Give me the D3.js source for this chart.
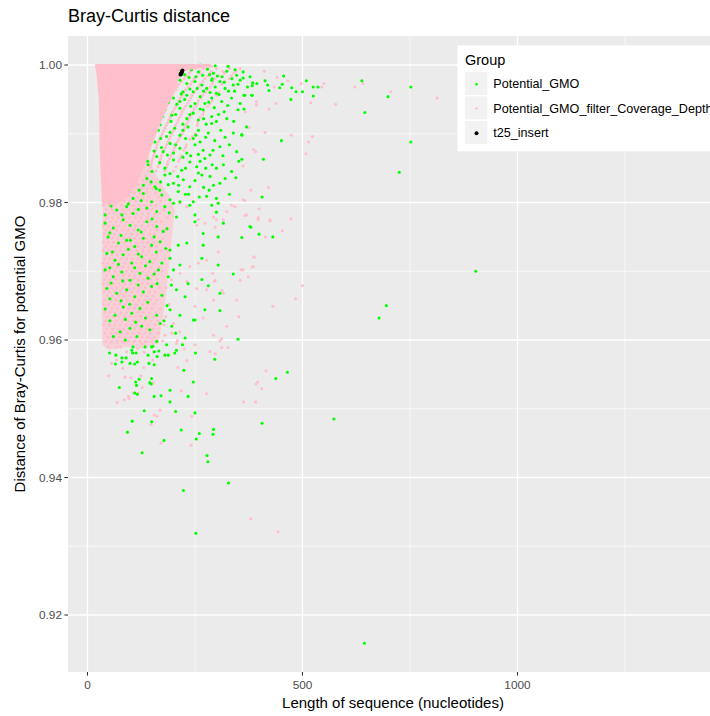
<!DOCTYPE html>
<html>
<head>
<meta charset="utf-8">
<script src="https://cdn.jsdelivr.net/npm/d3@7"></script>
<style>
  body { margin: 0; background: #ffffff; }
  svg { display: block; }
  text { font-family: "Liberation Sans", Arial, Helvetica, sans-serif; }
</style>
</head>
<body>
<svg id="chart" width="710" height="716"></svg>
<script>
// ---- axis ticks ----
const xMajorTicks = [0, 500, 1000];
const xMinorTicks = [250, 750, 1250];
const yMajorTicks = [0.92, 0.94, 0.96, 0.98, 1.00];
const yMinorTicks = [0.93, 0.95, 0.97, 0.99];

// ---- groups ----
const groupNames = ["Potential_GMO", "Potential_GMO_filter_Coverage_Depth", "t25_insert"];
const groupColours = ["#00FF00", "#FFC0CB", "#000000"];

// ---- Potential_GMO: [length, distance] ----
const gmoPoints = [
  [262,1.0],[297,.9999],[327,.9998],[240,.9997],
  [242,.9993],[258,.9990],[279,.9994],[293,.9988],[302,.9984],[324,.9991],[343,.9993],[347,.9985],[362,.9990],[378,.9983],
  [215,.9978],[231,.9973],[250,.9976],[266,.9971],[277,.9966],[289,.9978],[297,.9968],[308,.9976],[320,.9966],[339,.9971],[355,.9978],[366,.9956],[382,.9956],
  [200,.9952],[215,.9947],[231,.9956],[246,.9961],[262,.9954],[273,.9944],[289,.9952],[300,.9959],[312,.9947],[335,.9952],[355,.9944],
  [180,.9935],[196,.9927],[215,.9937],[231,.9922],[246,.9930],[258,.9920],[269,.9935],[289,.9925],[300,.9918],[324,.9922],[370,.9910],
  [149,.9901],[169,.9913],[184,.9896],[203,.9908],[215,.9898],[234,.9910],[246,.9893],[258,.9905],[281,.9901],[289,.9915],[339,.9901],[359,.9898],
  [134,.9881],[157,.9888],[176,.9874],[192,.9886],[215,.9879],[231,.9872],[250,.9884],[269,.9876],[285,.9869],[308,.9881],[347,.9874],
  [118,.9862],[141,.9855],[161,.9867],[180,.9850],[200,.9862],[219,.9847],[238,.9859],[254,.9852],[273,.9864],[300,.9850],[316,.9855],[335,.9845],
  [37,.9842],[68,.9830],[91,.9838],[110,.9825],[138,.9835],[157,.9823],[180,.9840],[200,.9828],[223,.9833],[238,.9823],[266,.9840],[293,.9825],[320,.9835],
  [45,.9811],[56,.9801],[76,.9809],[106,.9806],[130,.9813],[149,.9801],[173,.9811],[192,.9804],[211,.9816],[246,.9801],[277,.9809],
  [226,.9986],[252,.9983],[284,.9986],[313,.9983],[336,.9980],[270,.9962],[238,.9965],[306,.9957],[328,.9962],[222,.9961],
  [208,.9943],[240,.9940],[262,.9936],[295,.9938],[318,.9932],[194,.9918],[222,.9914],[276,.9914],[310,.9905],[228,.9893],
  [262,.9888],[296,.9890],[170,.9893],[205,.9884],[240,.9868],[262,.9860],[290,.9855],[186,.9869],[150,.9845],[170,.9830],
  [210,.9838],[250,.9832],[283,.9818],[120,.9818],[160,.9820],[228,.9812],[260,.9808],[300,.9806],[95,.9798],[125,.9803],
  [300,.9786],[330,.9812],[345,.9836],[352,.9860],[330,.9884],[275,.9850],
  [205,.9978],[236,.9982],[268,.9985],[290,.9980],[318,.9975],[350,.9972],[372,.9968],
  [195,.9962],[218,.9958],[255,.9966],[285,.9960],[342,.9962],
  [188,.9945],[226,.9950],[250,.9944],[282,.9946],[326,.9941],[350,.9935],
  [175,.9925],[205,.9928],[238,.9928],[270,.9922],[305,.9928],[340,.9918],
  [165,.9905],[192,.9902],[222,.9905],[252,.9898],[275,.9895],[320,.9895],
  [155,.9875],[172,.9880],[200,.9872],[222,.9866],[258,.9870],[292,.9876],[315,.9868],
  [140,.9860],[168,.9858],[192,.9842],[228,.9850],[258,.9843],[285,.9838],[308,.9828],
  [130,.9825],[148,.9830],[168,.9818],[188,.9826],[212,.9825],[235,.9812],[270,.9822],
  [41,.9782],[68,.9789],[91,.9794],[106,.9784],[138,.9792],[161,.9787],[180,.9794],[200,.9799],[215,.9801],[238,.9796],[250,.9782],[289,.9796],[304,.9799],
  [41,.9770],[60,.9763],[83,.9775],[99,.9767],[118,.9760],[138,.9772],[161,.9765],[176,.9758],[207,.9779],[250,.9772],[269,.9755],[316,.9770],[378,.9765],
  [48,.9750],[72,.9741],[91,.9745],[110,.9736],[130,.9748],[149,.9738],[169,.9743],[192,.9731],[211,.9738],[231,.9741],[269,.9738],[304,.9750],[359,.9749],
  [45,.9726],[64,.9716],[83,.9724],[103,.9712],[126,.9721],[145,.9714],[173,.9712],[192,.9719],[215,.9709],[266,.9719],[304,.9709],
  [41,.9702],[60,.9692],[80,.9699],[99,.9687],[122,.9697],[141,.9690],[165,.9702],[188,.9692],[234,.9682],[266,.9688],[339,.9696],
  [45,.9675],[68,.9668],[91,.9673],[110,.9663],[130,.9670],[149,.9678],[173,.9665],[207,.9673],[227,.9663],[281,.9679],[308,.9668],
  [41,.9645],[64,.9636],[83,.9648],[103,.9639],[122,.9646],[161,.9636],[192,.9644],[215,.9636],[250,.9629],[273,.9644],[308,.9643],
  [76,.9612],[99,.9617],[126,.9620],[145,.9615],[169,.9624],[196,.9620],[227,.9603],[246,.9629],[161,.9598],[184,.9593],[149,.9590],[350,.9601],[134,.9590],[106,.9590],
  [55,.9795],[80,.9782],[118,.9790],[150,.9776],[190,.9785],
  [52,.9756],[78,.9752],[100,.9745],[125,.9757],[155,.9750],[185,.9762],
  [58,.9728],[95,.9732],[118,.9725],[160,.9728],[182,.9733],
  [52,.9705],[72,.9710],[110,.9705],[135,.9708],[155,.9696],[200,.9702],
  [55,.9683],[82,.9686],[118,.9680],[162,.9682],[195,.9680],
  [52,.9660],[78,.9657],[98,.9652],[140,.9655],[185,.9650],
  [52,.9628],[88,.9630],[112,.9626],[135,.9632],[178,.9628],
  [60,.9605],[88,.9600],[115,.9605],[205,.9610],
  [51,.9581],[66,.9578],[80,.9574],[90,.9574],[103,.9585],[105,.9581],[113,.9581],[141,.9578],[152,.9591],[155,.9583],[162,.9576],[166,.9584],[180,.9578],[188,.9578],[203,.9581],[207,.9585],[221,.9593],[251,.9581],[296,.9572],
  [65,.9565],[80,.9568],[99,.9566],[110,.9565],[116,.9568],[143,.9566],[155,.9564],[224,.9556],[246,.9539],
  [112,.9539],[120,.9543],[145,.9538],[149,.9544],[148,.9536],[114,.9534],[74,.9531],[110,.9523],[116,.9521],[155,.9518],[171,.9519],[192,.9527],[192,.9510],[234,.9518],
  [132,.9497],[205,.9496],[250,.9494],[104,.9482],[149,.9481],[93,.9466],[218,.9469],[260,.9464],[293,.9470],[292,.9463],[253,.9456],[178,.9454],[127,.9436],[278,.9432],[280,.9423],[328,.9392],[223,.9381],[252,.9319],[406,.9479],[438,.9544],[465,.9553],[644,.9159],
  [638,.9977],[752,.9968],[699,.9954],[645,.9931],[752,.9888],[725,.9844],[451,.9890],[409,.9863],[406,.9808],[380,.9764],[399,.9754],[431,.9750],[359,.9863],[359,.9899],[364,.9936],
  [509,.9977],[525,.9955],[536,.9968],[525,.9968],[500,.9961],[485,.9961],[473,.9950],[475,.9967],[456,.9984],[453,.9972],[447,.9967],[422,.9963],[419,.9971],[413,.9977],[394,.9973],
  [383,.9970],[384,.9974],[383,.9956],[364,.9956],[362,.9981],[903,.9700],[695,.9650],[678,.9632],[573,.9485]
];

// ---- Potential_GMO_filter_Coverage_Depth ----
// outline of the saturated region where the points merge into one area
const filteredCoreOutline = [
  [20,1.0],[285,1.0],[290,.9998],[238,.9995],[215,.9990],[205,.9971],[195,.9956],[184,.9942],
  [173,.9923],[161,.9905],[150,.9888],[140,.9869],[126,.9850],[112,.9825],[92,.9808],[62,.9798],
  [36,.9800],[31,.9876],[29,.9949],[24,.9985],[20,.9999]
];
// outline of the dense (partly overlapping) cloud below it
const filteredDenseOutline = [
  [140,.9869],[160,.9840],[190,.9810],[203,.9790],[195,.9740],[185,.9680],[175,.9630],[165,.9595],
  [130,.9588],[90,.9590],[50,.9586],[34,.9593],[33,.9700],[36,.9800]
];
// rows of points along the right edge of the saturated region: [distance, [lengths]]
const filteredFringeRows = [
  [.9995,[250,270,300,330,355]],
  [.9991,[240,262,288,315,345]],
  [.9988,[236,262,285,318,340]],
  [.9984,[230,255,280,305,335]],
  [.9980,[225,248,273,296,330]],
  [.9976,[218,244,268,292,320]],
  [.9972,[212,240,262,290,312]],
  [.9968,[208,234,258,285]],
  [.9964,[205,228,254,280]],
  [.9960,[200,224,248,274,305]],
  [.9956,[196,220,243,268,300]],
  [.9952,[193,216,240,264]],
  [.9948,[190,212,236,258,290]],
  [.9944,[187,208,232,256,285]],
  [.9940,[184,205,228,252,280]],
  [.9936,[181,202,224,248]],
  [.9932,[178,198,220,244,270]],
  [.9928,[175,195,218,242,268]],
  [.9924,[172,192,214,238,262]],
  [.9920,[169,189,211,235]],
  [.9916,[166,186,208,232,256]],
  [.9912,[163,183,205,229,255]],
  [.9908,[160,180,202,226]],
  [.9904,[158,177,199,223]],
  [.9900,[155,174,196,220,250]],
  [.9896,[152,171,193,216,244]],
  [.9892,[150,168,190,212,238]],
  [.9888,[148,165,187,209]],
  [.9884,[146,162,184,206,230]],
  [.9880,[144,160,181,203,228]],
  [.9876,[142,158,178,200,224]],
  [.9872,[140,156,175,197]],
  [.9868,[138,154,172,194,218]],
  [.9864,[136,152,170,191,215]],
  [.9860,[134,150,168,188,212]],
  [.9856,[132,148,166,186]],
  [.9852,[130,146,164,184,206]],
  [.9846,[126,142,160,180,200]]
];
// rows of the dense cloud below the saturated region: [distance, [lengths]]
const filteredDenseRows = [
  [.9838,[40,52,63,78,95,108,121,135]],
  [.9832,[37,47,58,70,84,99,113,128,140]],
  [.9826,[43,55,66,80,92,104,118,132,147]],
  [.9820,[38,50,61,74,88,101,115,126,139,152]],
  [.9814,[45,57,69,83,96,110,123,137,158]],
  [.9808,[39,53,65,77,90,103,117,129,143,165]],
  [.9802,[42,48,60,72,86,98,112,125,138,152,170]],
  [.9796,[37,51,64,79,93,106,120,133,147,159]],
  [.9790,[44,56,68,82,95,109,122,136,150,177]],
  [.9784,[39,50,62,75,88,101,115,128,142,156,168]],
  [.9778,[46,58,71,84,97,111,124,139,153,186]],
  [.9772,[40,53,66,78,92,105,118,131,145,160,172]],
  [.9766,[37,48,60,73,86,99,113,126,141,152]],
  [.9760,[43,55,68,81,94,107,121,134,148,164,181]],
  [.9754,[39,51,63,76,90,103,116,130,144,157]],
  [.9748,[45,58,70,84,97,110,124,138,151,175]],
  [.9742,[38,49,61,74,87,100,114,127,140,155,166]],
  [.9736,[42,55,67,80,93,106,119,133,147,160]],
  [.9730,[37,50,63,76,89,102,115,129,142,170,188]],
  [.9724,[44,57,69,82,96,109,122,136,150,162]],
  [.9718,[40,52,65,78,91,104,117,131,144,157,180]],
  [.9712,[36,47,60,73,86,99,112,125,139,152]],
  [.9706,[43,56,69,82,95,108,121,135,148,166]],
  [.9700,[38,51,64,77,90,103,116,129,143,158,174]],
  [.9694,[45,58,71,84,97,110,123,137,151]],
  [.9688,[40,53,66,79,92,105,118,131,146,162,195]],
  [.9682,[36,48,61,74,87,100,113,127,140,154]],
  [.9676,[43,56,69,82,95,108,122,135,149,168,183]],
  [.9670,[39,51,64,77,90,103,116,130,144,157]],
  [.9664,[46,59,72,85,98,111,124,138,152,176]],
  [.9658,[41,54,67,80,93,106,119,133,146,161]],
  [.9652,[37,49,62,75,88,101,114,128,141,155,190]],
  [.9646,[44,57,70,83,96,109,122,136,150,170]],
  [.9640,[40,52,65,78,91,104,117,131,144,159]],
  [.9634,[47,60,73,86,99,112,125,139,153,182]],
  [.9628,[42,55,68,81,94,107,120,134,148,163]],
  [.9622,[38,50,63,76,89,102,116,129,142,157,178]],
  [.9616,[45,58,71,84,97,110,123,137,152]],
  [.9610,[41,54,67,80,93,106,120,133,147,165,196]],
  [.9604,[48,61,74,87,100,113,127,140,155]],
  [.9598,[43,56,69,82,96,109,122,136,150]]
];
// scattered points: [length, distance]
const filteredPoints = [
  [813,.9952],[705,.9961],[641,.9973],[622,.9968],[577,.9943],[550,.9973],[545,.9968],[519,.9945],[523,.9896],[514,.9888],
  [508,.9871],[474,.9898],[497,.9973],[466,.9977],[438,.9944],[422,.9936],[413,.9902],[411,.9991],[441,.9982],[434,.9968],
  [393,.9947],[393,.9942],[386,.9877],[391,.9874],[362,.9853],[380,.9818],[421,.9822],[366,.9803],[399,.9791],[366,.9781],
  [397,.9778],[425,.9773],[473,.9776],[453,.9759],[414,.9750],[367,.9932],[376,.9909],[500,.9679],
  [48,.9590],[55,.9596],[68,.9590],[77,.9590],[85,.9596],[91,.9583],[116,.9588],[127,.9595],[175,.9599],[209,.9599],
  [225,.9587],[285,.9583],[297,.9580],[312,.9589],[308,.9599],[68,.9571],[56,.9566],[82,.9559],[132,.9582],[152,.9571],
  [131,.9560],[231,.9570],[210,.9560],[49,.9548],[87,.9546],[101,.9545],[124,.9548],[127,.9531],[106,.9523],[95,.9518],
  [86,.9513],[69,.9509],[97,.9515],[118,.9523],[153,.9538],[218,.9526],[277,.9522],[415,.9555],[396,.9539],[392,.9536],
  [405,.9529],[391,.9510],[363,.9510],[169,.9498],[155,.9491],[162,.9489],[148,.9477],[243,.9489],[171,.9450],[241,.9447],
  [380,.9340],[443,.9321],
  [484,.9660],[431,.9649],[388,.9720],[383,.9706],[357,.9702],[355,.9687],[352,.9634],[313,.9672],[291,.9697],[295,.9685],
  [277,.9673],[293,.9607],[312,.9602],[327,.9589],[424,.9775],[316,.9775],[297,.9764],[215,.9799],[231,.9794],[335,.9796],
  [343,.9794],[362,.9804],[293,.9779],[300,.9775],[258,.9775],[254,.9767],[273,.9770],[324,.9787],[370,.9782],[397,.9775],
  [386,.9721],[362,.9702],[374,.9692],[386,.9707],[304,.9728],[277,.9716],[258,.9712],[238,.9707],[215,.9697],[231,.9685],
  [254,.9675],[297,.9687],[293,.9658],[269,.9632],[250,.9649],[316,.9668],[347,.9658],[324,.9620],[200,.9624],[215,.9612],
  [180,.9607],[207,.9595],[250,.9593]
];

// ---- t25_insert ----
const insertPoints = [[216,.9986],[217,.9987],[218,.9988],[219,.9990],[220,.9991],[221,.9992],[218,.9987],[219,.9989]];

// ---------------------------------------------------------------
const svg = d3.select("#chart");
const panel = { left: 68, top: 36, right: 720, bottom: 672 };

const x = d3.scaleLinear().domain([-45.3, 1447.7]).range([panel.left, 710]);
const y = d3.scaleLinear().domain([0.91171, 1.00422]).range([panel.bottom, panel.top]);
const colour = d3.scaleOrdinal().domain(groupNames).range(groupColours);

svg.append("rect").attr("width", 710).attr("height", 716).attr("fill", "#ffffff");

// panel background
svg.append("rect")
  .attr("x", panel.left).attr("y", panel.top)
  .attr("width", panel.right - panel.left).attr("height", panel.bottom - panel.top)
  .attr("fill", "#EBEBEB");

const grid = svg.append("g");
grid.selectAll("line.ymin").data(yMinorTicks).join("line")
  .attr("x1", panel.left).attr("x2", panel.right)
  .attr("y1", d => y(d)).attr("y2", d => y(d))
  .attr("stroke", "#ffffff").attr("stroke-width", 0.6);
grid.selectAll("line.xmin").data(xMinorTicks).join("line")
  .attr("y1", panel.top).attr("y2", panel.bottom)
  .attr("x1", d => x(d)).attr("x2", d => x(d))
  .attr("stroke", "#ffffff").attr("stroke-width", 0.6);
grid.selectAll("line.ymaj").data(yMajorTicks).join("line")
  .attr("x1", panel.left).attr("x2", panel.right)
  .attr("y1", d => y(d)).attr("y2", d => y(d))
  .attr("stroke", "#ffffff").attr("stroke-width", 1.3);
grid.selectAll("line.xmaj").data(xMajorTicks).join("line")
  .attr("y1", panel.top).attr("y2", panel.bottom)
  .attr("x1", d => x(d)).attr("x2", d => x(d))
  .attr("stroke", "#ffffff").attr("stroke-width", 1.3);

// ---- points ----
const R = 1.55;
const pinkRowPoints = rows => rows.flatMap(([dist, lens]) => lens.map(len => [len, dist]));
const filteredAll = pinkRowPoints(filteredDenseRows)
  .concat(pinkRowPoints(filteredFringeRows))
  .concat(filteredPoints);
const outlinePath = d3.line().x(d => x(d[0])).y(d => y(d[1])).curve(d3.curveLinearClosed);

const marks = svg.append("g");

// dense, partly overlapping cloud of the filtered group
marks.append("path")
  .datum(filteredDenseOutline)
  .attr("d", outlinePath)
  .attr("fill", colour(groupNames[1]))
  .attr("fill-opacity", 0.6)
  .attr("stroke", "none");

marks.selectAll("circle.pf").data(filteredAll).join("circle")
  .attr("cx", d => x(d[0])).attr("cy", d => y(d[1])).attr("r", R)
  .attr("fill", colour(groupNames[1]));

marks.selectAll("circle.gmo").data(gmoPoints).join("circle")
  .attr("cx", d => x(d[0])).attr("cy", d => y(d[1])).attr("r", R)
  .attr("fill", colour(groupNames[0]));

// saturated area of the filtered group
marks.append("path")
  .datum(filteredCoreOutline)
  .attr("d", outlinePath)
  .attr("fill", colour(groupNames[1]))
  .attr("stroke", colour(groupNames[1]))
  .attr("stroke-width", 2.2)
  .attr("stroke-linejoin", "round");

marks.selectAll("circle.ins").data(insertPoints).join("circle")
  .attr("cx", d => x(d[0])).attr("cy", d => y(d[1])).attr("r", 1.9)
  .attr("fill", colour(groupNames[2]));

// ---- axes ----
const axes = svg.append("g");
axes.selectAll("line.yt").data(yMajorTicks).join("line")
  .attr("x1", panel.left - 3.6).attr("x2", panel.left)
  .attr("y1", d => y(d)).attr("y2", d => y(d))
  .attr("stroke", "#333333").attr("stroke-width", 1.07);
axes.selectAll("text.yl").data(yMajorTicks).join("text")
  .attr("x", panel.left - 6).attr("y", d => y(d) + 4.2)
  .attr("text-anchor", "end").attr("font-size", "11.8px").attr("fill", "#4D4D4D")
  .text(d => d3.format(".2f")(d));
axes.selectAll("line.xt").data(xMajorTicks).join("line")
  .attr("y1", panel.bottom).attr("y2", panel.bottom + 3.6)
  .attr("x1", d => x(d)).attr("x2", d => x(d))
  .attr("stroke", "#333333").attr("stroke-width", 1.07);
axes.selectAll("text.xl").data(xMajorTicks).join("text")
  .attr("x", d => x(d)).attr("y", 689.3)
  .attr("text-anchor", "middle").attr("font-size", "11.8px").attr("fill", "#4D4D4D")
  .text(d => d3.format("d")(d));

// titles
svg.append("text").attr("x", 68).attr("y", 22.3)
  .attr("font-size", "18px").attr("fill", "#000").text("Bray-Curtis distance");
svg.append("text").attr("x", 393).attr("y", 707.5)
  .attr("text-anchor", "middle").attr("font-size", "15px").attr("fill", "#000")
  .text("Length of sequence (nucleotides)");
svg.append("text")
  .attr("transform", `translate(25,${(panel.top + panel.bottom) / 2}) rotate(-90)`)
  .attr("text-anchor", "middle").attr("font-size", "15px").attr("fill", "#000")
  .text("Distance of Bray-Curtis for potential GMO");

// ---- legend ----
const legend = svg.append("g");
legend.append("rect").attr("x", 457.5).attr("y", 45.3).attr("width", 270).attr("height", 106)
  .attr("fill", "#ffffff");
legend.append("text").attr("x", 465).attr("y", 65.3)
  .attr("font-size", "14.5px").attr("fill", "#000").text("Group");
const keyTop = [72, 96.3, 121];
const keyDot = [1.3, 1.3, 2.0];
const keyRows = legend.selectAll("g.key").data(groupNames).join("g")
  .attr("transform", (d, i) => `translate(465,${keyTop[i]})`);
keyRows.append("rect").attr("width", 22.4).attr("height", 23)
  .attr("fill", "#F2F2F2");
keyRows.append("circle").attr("cx", 11.5).attr("cy", 12.2)
  .attr("r", (d, i) => keyDot[i]).attr("fill", d => colour(d));
keyRows.append("text").attr("x", 28.3).attr("y", 16.3)
  .attr("font-size", "12.6px").attr("fill", "#000").text(d => d);
</script>
</body>
</html>
